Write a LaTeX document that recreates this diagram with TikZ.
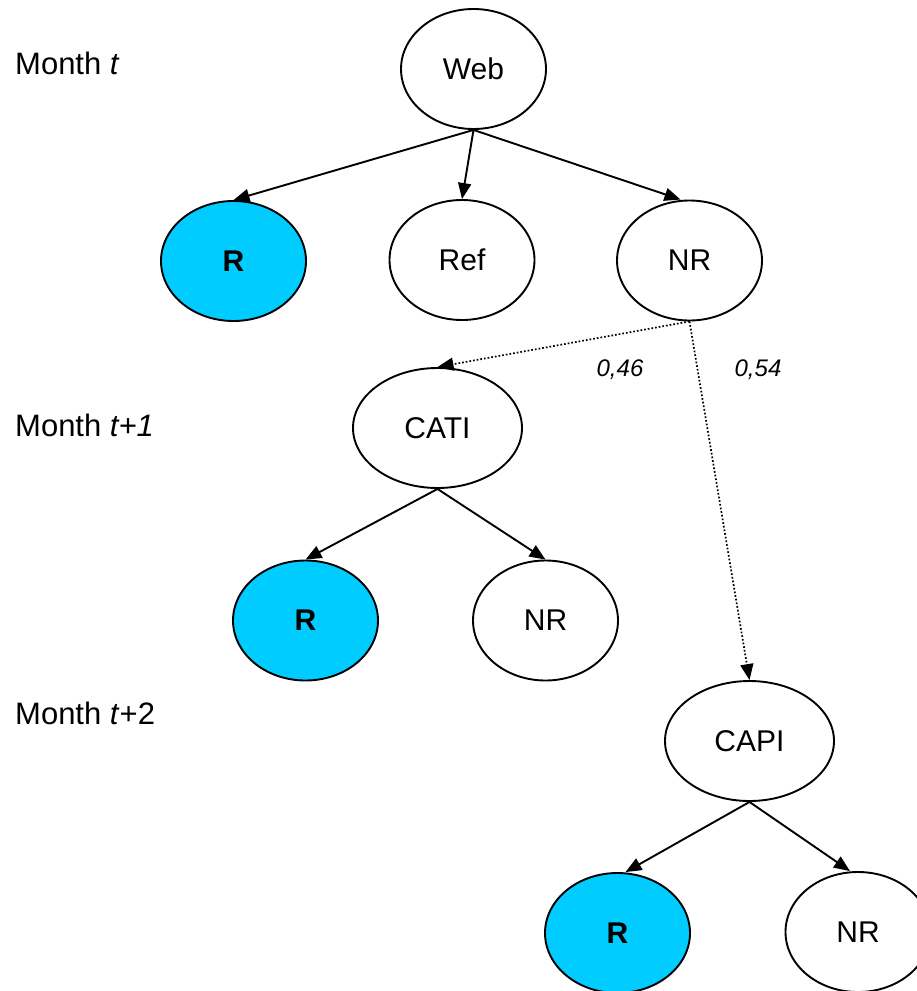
\documentclass[tikz,border=0pt]{standalone}
\usepackage{fontspec}
\setmainfont{Liberation Sans}
\usetikzlibrary{arrows.meta,shapes.geometric}
\definecolor{rcyan}{RGB}{0,204,255}
\tikzset{
  state/.style={ellipse, draw=black, line width=1.9pt, minimum width=145pt, minimum height=120pt, inner sep=0pt, font=\fontsize{30}{36}\selectfont},
  wide/.style={state, minimum width=169pt},
  resp/.style={state, fill=rcyan, font=\fontsize{30}{36}\selectfont\bfseries},
  link/.style={line width=1.9pt, -{Triangle[length=16pt,width=13pt]}},
  dlink/.style={line width=1.7pt, dotted, -{Triangle[length=16pt,width=13pt]}},
  month/.style={anchor=west, inner sep=0pt, font=\fontsize{31}{36}\selectfont},
  prob/.style={inner sep=0pt, font=\fontsize{24}{28}\selectfont\itshape}
}
\begin{document}
\begin{tikzpicture}[x=1pt,y=-1pt]
\useasboundingbox (0,0) rectangle (917,991);
\node[state] (web) at (473.5,69) {Web};
\node[resp] (r1) at (233.5,261) {R};
\node[state] (ref) at (462,260) {Ref};
\node[state] (nr1) at (689.5,260.5) {NR};
\node[wide] (cati) at (437.5,428) {CATI};
\node[resp] (r2) at (305.5,620.5) {R};
\node[state] (nr2) at (545.5,620.5) {NR};
\node[wide] (capi) at (749.5,741) {CAPI};
\node[resp] (r3) at (617.5,933) {R};
\node[state] (nr3) at (858,932) {NR};
\node[month] (m0) at (15,63) {Month \textit{t}};
\node[month] (m1) at (15,425) {Month \textit{t+1}};
\node[month] (m2) at (15,713) {Month \textit{t}+2};
\node[prob] (p1) at (620,370) {0,46};
\node[prob] (p2) at (758,370) {0,54};
\draw[link] (web.south) -- (r1.north);
\draw[link] (web.south) -- (ref.north);
\draw[link] (web.south) -- ([xshift=-9pt]nr1.north);
\draw[dlink] (nr1.south) -- (cati.north);
\draw[dlink] (nr1.south) -- (capi.north);
\draw[link] (cati.south) -- (r2.north);
\draw[link] (cati.south) -- (nr2.north);
\draw[link] (capi.south) -- ([xshift=8pt]r3.north);
\draw[link] (capi.south) -- ([xshift=-8pt]nr3.north);
\end{tikzpicture}
\end{document}
